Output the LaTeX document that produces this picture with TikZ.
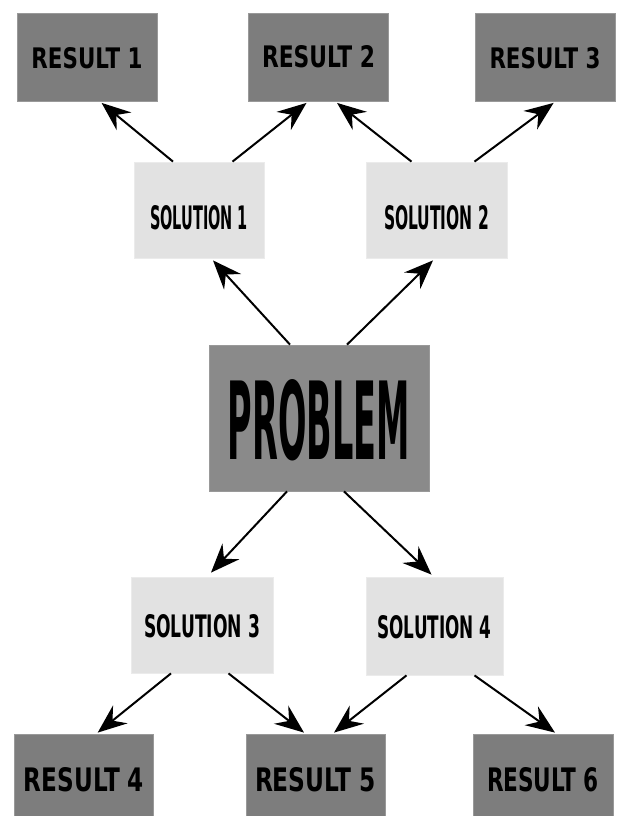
\documentclass[tikz,border=0pt]{standalone}
\usepackage{fontspec}
\setmainfont{DejaVu Sans}
\usetikzlibrary{arrows.meta}
\definecolor{resgray}{HTML}{7D7D7D}
\definecolor{probgray}{HTML}{8A8A8A}
\definecolor{solgray}{HTML}{E2E2E2}
\definecolor{edgegray}{HTML}{999999}
\definecolor{soledge}{HTML}{EBEBEB}
\newcommand{\lbl}[4]{\raisebox{#4}[\height][0pt]{\resizebox{#1}{#2}{\bfseries #3}}}
\tikzset{
  resbox/.style={fill=resgray,draw=edgegray,line width=0.8pt,minimum width=140pt,minimum height=88pt,inner sep=0pt},
  solbox/.style={fill=solgray,draw=soledge,line width=0.8pt,minimum height=96pt,inner sep=0pt},
  probbox/.style={fill=probgray,draw=edgegray,line width=0.8pt,minimum width=220pt,minimum height=146pt,inner sep=0pt},
  conn/.style={line width=2pt,-{Stealth[length=29pt,width=23pt,inset=10pt]}}}
\begin{document}
\begin{tikzpicture}[x=1pt,y=-1pt]
\useasboundingbox (0,0) rectangle (617,816);
\fill[white] (0,0) rectangle (617,816);
\begin{scope}
\clip (0,0) rectangle (617,816);
\node[resbox] (r1) at (87,57.5) {\lbl{111pt}{21pt}{RESULT 1}{0pt}};
\node[resbox] (r2) at (318.5,57.5) {\lbl{113pt}{22pt}{RESULT 2}{1pt}};
\node[resbox] (r3) at (545,57.5) {\lbl{111pt}{21pt}{RESULT 3}{0pt}};
\node[solbox,minimum width=130pt] (s1) at (199,210) {\lbl{98pt}{24pt}{SOLUTION 1}{-7pt}};
\node[solbox,minimum width=141pt] (s2) at (436.5,210) {\lbl{105pt}{24pt}{SOLUTION 2}{-7pt}};
\node[probbox] (p) at (319,418) {\lbl{182pt}{80pt}{PROBLEM}{-1pt}};
\node[solbox,minimum width=142pt] (s3) at (202,625) {\lbl{116pt}{23pt}{SOLUTION 3}{-1pt}};
\node[solbox,minimum width=137pt,minimum height=98pt] (s4) at (434.5,626) {\lbl{114pt}{23pt}{SOLUTION 4}{-1pt}};
\node[resbox,minimum width=139pt] (r4) at (84,778) {\lbl{120pt}{24pt}{RESULT 4}{-1pt}};
\node[resbox,minimum width=139pt] (r5) at (315.5,778) {\lbl{121pt}{24pt}{RESULT 5}{-1pt}};
\node[resbox] (r6) at (543,778) {\lbl{112pt}{24pt}{RESULT 6}{-1pt}};
\end{scope}
\draw[conn] ([xshift=-26pt]s1.north) -- ([xshift=14.6pt,yshift=-1pt]r1.south);
\draw[conn] ([xshift=33.5pt]s1.north) -- ([xshift=-12pt,yshift=-1pt]r2.south);
\draw[conn] ([xshift=-25pt]s2.north) -- ([xshift=18.5pt,yshift=-1pt]r2.south);
\draw[conn] ([xshift=38pt]s2.north) -- ([xshift=8.6pt,yshift=-1pt]r3.south);
\draw[conn] ([xshift=-29pt]p.north) -- ([xshift=14pt,yshift=-2pt]s1.south);
\draw[conn] ([xshift=28pt]p.north) -- ([xshift=-3.5pt,yshift=-2pt]s2.south);
\draw[conn] ([xshift=-32pt]p.south) -- ([xshift=9pt,yshift=4pt]s3.north);
\draw[conn] ([xshift=25pt]p.south) -- ([xshift=-3pt,yshift=2pt]s4.north);
\draw[conn] ([xshift=-31pt]s3.south) -- ([xshift=13.7pt,yshift=1pt]r4.north);
\draw[conn] ([xshift=26.5pt]s3.south) -- ([xshift=-11.5pt,yshift=1pt]r5.north);
\draw[conn] ([xshift=-28pt]s4.south) -- ([xshift=18.5pt,yshift=1pt]r5.north);
\draw[conn] ([xshift=40pt]s4.south) -- ([xshift=12pt,yshift=1pt]r6.north);
\end{tikzpicture}
\end{document}
